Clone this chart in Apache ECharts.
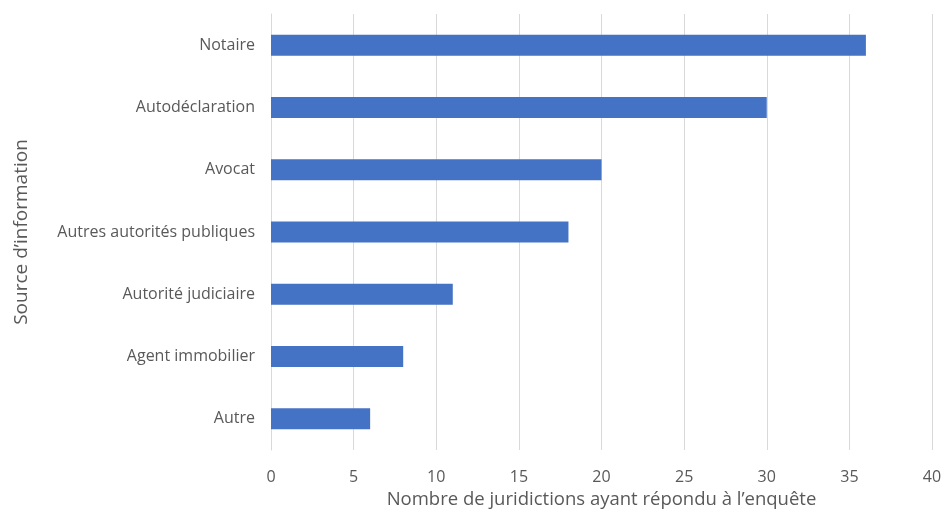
<!DOCTYPE html>
<html>
<head>
<meta charset="utf-8">
<script src="https://cdn.jsdelivr.net/npm/echarts@6/dist/echarts.min.js"></script>
<style>
  html, body { margin: 0; padding: 0; background: #ffffff; }
  #chart { width: 943px; height: 516px; }
</style>
</head>
<body>
<div id="chart"></div>
<script>
// Sources of information, top to bottom
const categories = [
  'Notaire',
  'Autodéclaration',
  'Avocat',
  'Autres autorités publiques',
  'Autorité judiciaire',
  'Agent immobilier',
  'Autre'
];
// Number of responding jurisdictions per source
const values = [36, 30, 20, 18, 11, 8, 6];

const textColor = '#595959';
const fontFamily = '"Open Sans", "Noto Sans", sans-serif';

const chart = echarts.init(document.getElementById('chart'));
chart.setOption({
  animation: false,
  backgroundColor: '#ffffff',
  textStyle: { fontFamily: fontFamily },
  grid: {
    left: 271, right: 11, top: 14, bottom: 66,
    containLabel: false,
    outerBoundsMode: 'none'
  },
  xAxis: {
    type: 'value',
    min: 0,
    max: 40,
    interval: 5,
    name: 'Nombre de juridictions ayant répondu à l’enquête',
    nameLocation: 'middle',
    nameGap: 40,
    nameTextStyle: { color: textColor, fontSize: 18.5, fontFamily: fontFamily },
    axisLine: { show: false },
    axisTick: { show: false },
    axisLabel: { color: textColor, fontSize: 16, margin: 19, fontFamily: fontFamily },
    splitLine: { show: true, lineStyle: { color: '#d9d9d9', width: 1 } }
  },
  yAxis: {
    type: 'category',
    data: categories,
    inverse: true,
    name: 'Source d’information',
    nameLocation: 'middle',
    nameRotate: 90,
    nameGap: 240,
    nameTextStyle: { color: textColor, fontSize: 19, fontFamily: fontFamily },
    axisLine: { show: true, lineStyle: { color: '#d9d9d9', width: 1 } },
    axisTick: { show: false },
    axisLabel: { color: textColor, fontSize: 16, margin: 16, fontFamily: fontFamily },
    splitLine: { show: false }
  },
  series: [{
    type: 'bar',
    data: values,
    barWidth: 21,
    itemStyle: { color: '#4472C4' }
  }]
});
</script>
</body>
</html>
